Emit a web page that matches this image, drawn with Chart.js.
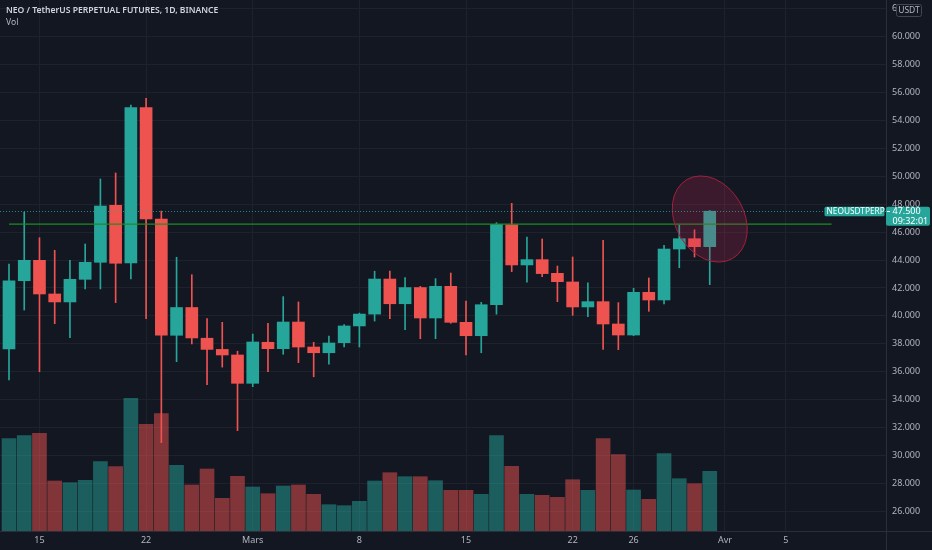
<!DOCTYPE html>
<html><head><meta charset="utf-8">
<script src="https://cdn.jsdelivr.net/npm/chart.js@4.4.1/dist/chart.umd.min.js"></script>
<style>
html,body{margin:0;padding:0;background:#131722;overflow:hidden}
#wrap{position:relative;width:932px;height:550px}
canvas{display:block}
#legend{position:absolute;left:6px;top:5px;font-family:"Noto Sans",sans-serif;color:#d1d4dc;font-size:8.6px;line-height:11.5px;pointer-events:none;white-space:nowrap}
#legend .t{font-weight:600}
#legend .v{color:#b2b5be}
</style></head>
<body><div id="wrap"><canvas id="c" width="932" height="550"></canvas>
<div id="legend"><div class="t">NEO / TetherUS PERPETUAL FUTURES, 1D, BINANCE</div><div class="v">Vol</div></div></div>
<script>
// ---- data ----
const dates = ['2021-02-13','2021-02-14','2021-02-15','2021-02-16','2021-02-17','2021-02-18','2021-02-19','2021-02-20','2021-02-21','2021-02-22','2021-02-23','2021-02-24','2021-02-25','2021-02-26','2021-02-27','2021-02-28','2021-03-01','2021-03-02','2021-03-03','2021-03-04','2021-03-05','2021-03-06','2021-03-07','2021-03-08','2021-03-09','2021-03-10','2021-03-11','2021-03-12','2021-03-13','2021-03-14','2021-03-15','2021-03-16','2021-03-17','2021-03-18','2021-03-19','2021-03-20','2021-03-21','2021-03-22','2021-03-23','2021-03-24','2021-03-25','2021-03-26','2021-03-27','2021-03-28','2021-03-29','2021-03-30','2021-03-31'];
const opens  = [37.63,42.52,43.98,41.57,41.00,42.62,43.84,47.92,43.79,54.92,46.94,38.61,40.60,38.40,37.60,37.20,35.17,38.11,37.65,39.56,37.77,37.36,38.08,39.28,40.13,42.64,40.87,42.03,39.85,42.12,39.54,38.58,40.80,46.53,43.65,44.03,43.05,42.43,40.64,41.02,39.42,38.63,41.69,41.14,44.79,45.53,44.96];
const highs  = [43.72,47.44,45.60,44.70,43.98,45.15,49.81,50.24,55.10,55.59,47.51,44.20,42.95,39.80,39.54,37.47,38.70,39.47,41.38,41.00,38.11,38.56,39.37,40.20,43.20,43.21,42.74,42.12,42.67,43.07,41.07,40.97,46.68,48.06,45.65,45.51,43.57,44.22,42.36,45.41,40.95,41.98,42.72,45.05,46.51,46.17,47.55];
const lows   = [35.41,40.42,36.00,39.44,38.44,41.93,41.93,40.95,42.64,39.80,30.92,36.72,37.99,35.08,36.33,31.78,34.93,36.00,37.25,36.65,35.64,36.55,37.77,37.77,39.63,39.80,39.01,38.37,38.37,39.47,37.20,37.36,40.12,43.17,42.41,42.81,41.02,40.04,39.94,37.60,37.58,38.58,40.33,40.85,43.45,44.22,42.24];
const closes = [42.52,43.98,41.57,41.00,42.62,43.84,47.87,43.77,54.92,46.94,38.61,40.60,38.42,37.60,37.20,35.17,38.13,37.65,39.56,37.77,37.36,38.06,39.28,40.13,42.64,40.87,42.03,39.85,42.12,39.54,38.58,40.80,46.56,43.65,44.03,43.03,42.45,40.64,41.02,39.42,38.63,41.69,41.14,44.79,45.53,44.96,47.50];
const volumes = [9.23,9.53,9.77,5.00,4.83,5.07,6.93,6.43,13.27,10.67,11.73,6.57,4.60,6.20,3.27,5.47,4.40,3.73,4.50,4.60,3.67,2.63,2.53,2.97,5.00,5.83,5.43,5.43,5.03,4.07,4.07,3.67,9.53,6.47,3.67,3.57,3.37,5.13,4.07,9.23,7.63,4.10,3.17,7.73,5.23,4.73,5.97];
const xTickIndex  = [2, 9, 16, 23, 30, 37, 41, 47, 51];
const xTickLabels = ['15','22','Mars','8','15','22','26','Avr','5'];
const priceTicks  = [26,28,30,32,34,36,38,40,42,44,46,48,50,52,54,56,58,60,62];
const levelValue = 46.58;       // green horizontal level
const levelRange = [0, 54];      // index range of the level
const symbolName = 'NEOUSDTPERP';
const countdown = '09:32:01';
const currency = 'USDT';
const markCenter = {x: 46, y: 46.94}; // circled area (index, price)

// ---- styles ----
const UP = '#26a69a', DOWN = '#ef5350';
const UP_VOL = 'rgba(38,166,154,0.5)', DOWN_VOL = 'rgba(239,83,80,0.5)';
const GRID = '#1e222d', TEXT = '#b2b5be', FONT = '"Noto Sans", sans-serif';
const isUp = i => closes[i] >= opens[i];
const lastIdx = closes.length - 1;

const overlay = {
  id: 'overlay',
  afterDatasetsDraw(chart) {
    const {ctx, chartArea, scales} = chart;
    const x = scales.x, y = scales.y;
    ctx.save();
    ctx.beginPath(); ctx.rect(chartArea.left, chartArea.top, chartArea.right - chartArea.left, chartArea.bottom - chartArea.top); ctx.clip();
    const cx = x.getPixelForValue(markCenter.x), cy = y.getPixelForValue(markCenter.y);
    ctx.beginPath();
    ctx.ellipse(cx, cy, 45.6, 34.4, 60 * Math.PI / 180, 0, Math.PI * 2);
    ctx.fillStyle = 'rgba(200,40,80,0.22)';
    ctx.fill();
    ctx.strokeStyle = '#a3203c'; ctx.lineWidth = 1; ctx.stroke();
    const py = Math.round(y.getPixelForValue(closes[lastIdx])) + 0.5;
    ctx.setLineDash([1, 2]);
    ctx.strokeStyle = 'rgba(38,166,154,0.8)';
    ctx.beginPath(); ctx.moveTo(chartArea.left, py); ctx.lineTo(chartArea.right, py); ctx.stroke();
    ctx.restore();
  },
  afterDraw(chart) {
    const {ctx, chartArea, scales, width, height} = chart;
    const y = scales.y;
    ctx.save();
    ctx.strokeStyle = '#2a2e39'; ctx.lineWidth = 1;
    ctx.beginPath(); ctx.moveTo(chartArea.right + 0.5, 0); ctx.lineTo(chartArea.right + 0.5, height); ctx.stroke();
    ctx.beginPath(); ctx.moveTo(0, chartArea.bottom + 0.5); ctx.lineTo(width, chartArea.bottom + 0.5); ctx.stroke();
    ctx.fillStyle = '#131722'; ctx.strokeStyle = '#434651';
    ctx.beginPath(); ctx.roundRect(896.5, 4.5, 25, 12, 2); ctx.fill(); ctx.stroke();
    ctx.fillStyle = TEXT; ctx.font = '8.5px ' + FONT; ctx.textAlign = 'center'; ctx.textBaseline = 'middle';
    ctx.fillText(currency, 909, 10.8);
    const py = y.getPixelForValue(closes[lastIdx]);
    ctx.fillStyle = UP;
    ctx.beginPath(); ctx.roundRect(824.5, py - 4.5, 60, 9.5, 1.5); ctx.fill();
    ctx.beginPath(); ctx.roundRect(chartArea.right, py - 4.5, 44, 19, 2); ctx.fill();
    ctx.fillStyle = '#ffffff'; ctx.textAlign = 'left';
    ctx.font = '8.3px ' + FONT;
    ctx.fillText(symbolName, 826.5, py + 0.5);
    ctx.fillRect(chartArea.right + 1, Math.round(py), 3, 1);
    ctx.font = '9px ' + FONT;
    ctx.fillText(closes[lastIdx].toFixed(3), 892.5, py + 0.5);
    ctx.fillText(countdown, 892.5, py + 10);
    ctx.restore();
  }
};

const tickMap = {};
xTickIndex.forEach((v, k) => tickMap[v] = xTickLabels[k]);
const noPad = s => { s.paddingTop = 0; s.paddingBottom = 0; s.paddingLeft = 0; s.paddingRight = 0; };

new Chart(document.getElementById('c'), {
  type: 'bar',
  data: {
    datasets: [
      {
        type: 'line', label: 'level', yAxisID: 'y', order: 0,
        data: levelRange.map(v => ({x: v, y: levelValue})),
        borderColor: '#1f8d22', borderWidth: 1.3, pointRadius: 0, fill: false
      },
      {
        label: 'body', yAxisID: 'y', order: 1, grouped: false,
        data: opens.map((o, i) => ({x: i, y: [o, closes[i]]})),
        backgroundColor: ctx => isUp(ctx.dataIndex) ? UP : DOWN,
        barThickness: 12, minBarLength: 1, borderWidth: 0
      },
      {
        label: 'wick', yAxisID: 'y', order: 2, grouped: false,
        data: lows.map((l, i) => ({x: i, y: [l, highs[i]]})),
        backgroundColor: ctx => isUp(ctx.dataIndex) ? UP : DOWN,
        barThickness: 1, borderWidth: 0
      },
      {
        label: 'Vol', yAxisID: 'yv', order: 3, grouped: false,
        data: volumes.map((v, i) => ({x: i, y: v})),
        backgroundColor: ctx => isUp(ctx.dataIndex) ? UP_VOL : DOWN_VOL,
        barThickness: 14, borderWidth: 0
      }
    ]
  },
  options: {
    responsive: false, animation: false, devicePixelRatio: 1,
    layout: {padding: 0},
    plugins: {legend: {display: false}, tooltip: {enabled: false}},
    scales: {
      x: {
        type: 'linear', position: 'bottom', min: -0.591, max: 57.57, offset: false,
        grid: {color: GRID, drawTicks: false, offset: false},
        border: {display: false},
        afterBuildTicks: s => { s.ticks = xTickIndex.map(v => ({value: v})); },
        afterFit: s => { s.height = 19; noPad(s); },
        ticks: {color: TEXT, font: {size: 9, family: FONT}, padding: 4, autoSkip: false, maxRotation: 0,
          callback: v => tickMap[v] ?? ''}
      },
      y: {
        type: 'linear', position: 'right', min: 24.59, max: 62.63,
        grid: {color: GRID, drawTicks: false},
        border: {display: false},
        afterBuildTicks: s => { s.ticks = priceTicks.map(v => ({value: v})); },
        afterFit: s => { s.width = 46; noPad(s); },
        ticks: {color: TEXT, font: {size: 9, family: FONT}, padding: 6, callback: v => Number(v).toFixed(3)}
      },
      yv: {type: 'linear', display: false, min: 0, max: 53.1}
    }
  },
  plugins: [overlay]
});
</script>
</body></html>
